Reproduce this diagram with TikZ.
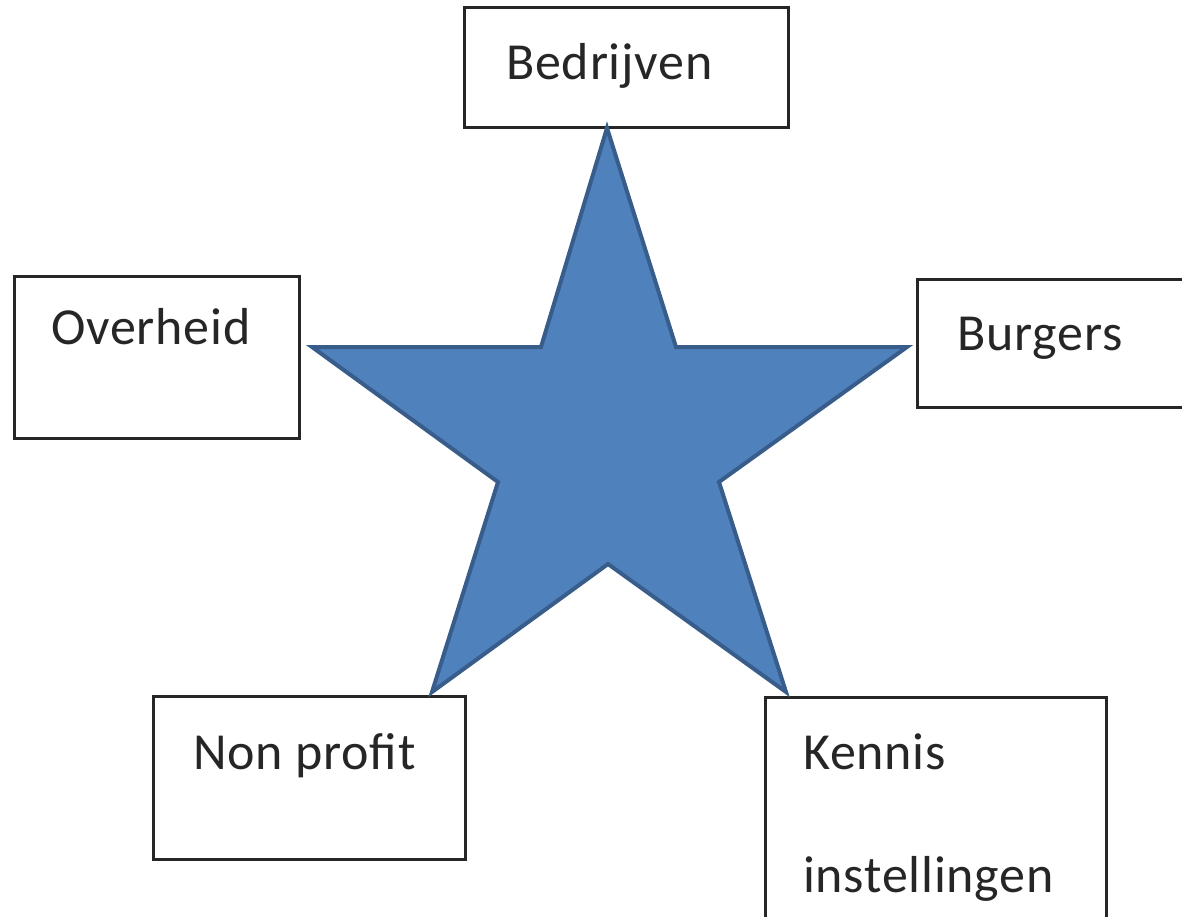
\documentclass[tikz,border=0pt]{standalone}
\usepackage{fontspec}
\setmainfont[LetterSpace=1.5]{Carlito}
\begin{document}
\begin{tikzpicture}[x=1pt,y=-1pt,
  box/.style={draw=black!85,line width=3pt,fill=white,rectangle,inner sep=0pt},
  lbl/.style={anchor=base west,inner sep=0pt,font=\fontsize{52}{60}\selectfont,text=black!85},
  starshape/.style={fill=starfill,draw=starline,line width=4pt,line join=miter}]
\definecolor{starfill}{HTML}{4F81BD}
\definecolor{starline}{HTML}{385D8A}
\useasboundingbox (0,0) rectangle (1182,917);
\clip (0,0) rectangle (1182,917);
% boxes
\node[box,minimum width=324pt,minimum height=120pt] (bedr) at (626,68) {};
\node[box,minimum width=285pt,minimum height=162pt] (overh) at (157,357) {};
\node[box,minimum width=300pt,minimum height=128pt] (burg) at (1067,343) {};
\node[box,minimum width=312pt,minimum height=163pt] (nonp) at (309,778) {};
\node[box,minimum width=341pt,minimum height=260pt] (kenn) at (936,827) {};
% star
\draw[starshape] (607,128) -- (676,347) -- (907,347) -- (719,482) -- (786,692)
  -- (608,564) -- (432,692) -- (498,482) -- (312,347) -- (541,347) -- cycle;
% labels
\node[lbl] (tbedr) at (506,80) {Bedrijven};
\node[lbl] (tover) at (51,344) {Overheid};
\node[lbl] (tburg) at (957,350) {Burgers};
\node[lbl] (tnonp) at (193,769) {Non profit};
\node[lbl] (tkenn1) at (803,769) {Kennis};
\node[lbl] (tkenn2) at (803,892) {instellingen};
\end{tikzpicture}
\end{document}
